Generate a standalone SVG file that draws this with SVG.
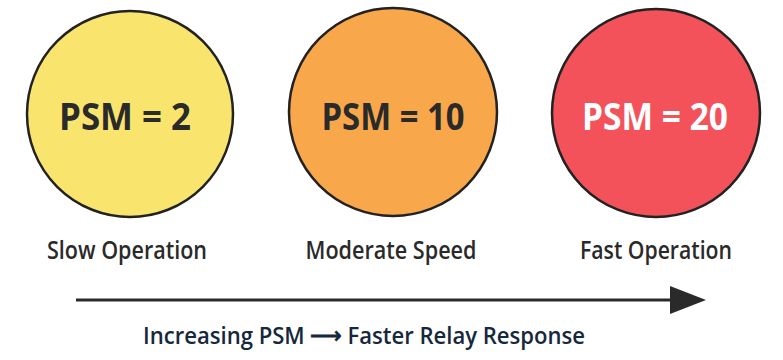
<svg xmlns="http://www.w3.org/2000/svg" width="783" height="360" viewBox="0 0 783 360">
<style>
.c{stroke:#222;stroke-width:2.5}
.v{font-family:"Open Sans","Liberation Sans",sans-serif;font-weight:700;font-size:37px;text-anchor:middle;fill:#2a2a2a}
.l{font-family:"Open Sans","Liberation Sans",sans-serif;font-weight:600;font-size:26px;text-anchor:middle;fill:#2a2a2a}
.b{font-family:"Open Sans","Liberation Sans",sans-serif;font-weight:600;font-size:24px;text-anchor:middle;fill:#16283d}
</style>
<rect width="783" height="360" fill="#ffffff"/>
<g id="node-psm2">
<circle class="c" cx="130" cy="114" r="103" fill="#F9E46E"/>
<text class="v" x="125" y="130" textLength="132" lengthAdjust="spacingAndGlyphs">PSM = 2</text>
<text class="l" x="127" y="259" textLength="160" lengthAdjust="spacingAndGlyphs">Slow Operation</text>
</g>
<g id="node-psm10">
<circle class="c" cx="393" cy="112" r="104" fill="#F9A74B"/>
<text class="v" x="393" y="130" textLength="143" lengthAdjust="spacingAndGlyphs">PSM = 10</text>
<text class="l" x="391" y="259" textLength="171" lengthAdjust="spacingAndGlyphs">Moderate Speed</text>
</g>
<g id="node-psm20">
<circle class="c" cx="656" cy="113" r="104" fill="#F4525A"/>
<text class="v" x="655" y="130" textLength="146" lengthAdjust="spacingAndGlyphs" style="fill:#ffffff">PSM = 20</text>
<text class="l" x="656" y="259" textLength="152" lengthAdjust="spacingAndGlyphs">Fast Operation</text>
</g>
<g id="connectors">
<line x1="76" y1="300" x2="672" y2="300" stroke="#2a2a2a" stroke-width="3"/>
<path d="M670,286 L706,300 L670,314 Z" fill="#2a2a2a"/>
</g>
<text class="b" x="364" y="344" textLength="442" lengthAdjust="spacingAndGlyphs">Increasing PSM ⟶ Faster Relay Response</text>
</svg>
